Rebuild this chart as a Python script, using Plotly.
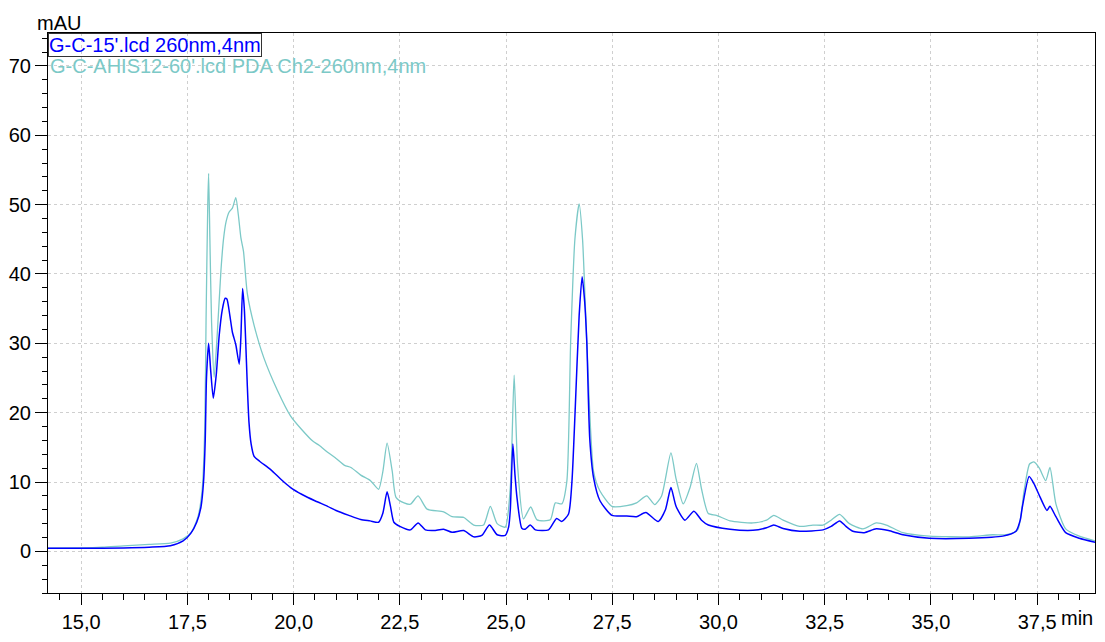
import plotly.graph_objects as go

# ---- data (retention time in min, absorbance in mAU) ----
blue_t = [14.22, 15.0, 16.0, 16.6, 17.1, 17.4, 17.58, 17.72, 17.82, 17.88, 17.92, 17.95, 18.0, 18.05, 18.11,
          18.18, 18.25, 18.32, 18.39, 18.43, 18.5, 18.56, 18.64, 18.72, 18.76, 18.80, 18.84, 18.87, 18.91,
          18.95, 19.0, 19.07, 19.2, 19.46, 19.70, 19.93, 20.2, 20.5, 20.8, 21.0, 21.3, 21.58, 21.8, 22.0,
          22.1, 22.2, 22.28, 22.36, 22.5, 22.75, 22.93, 23.1, 23.3, 23.53, 23.73, 24.0, 24.24, 24.43, 24.61,
          24.79, 24.98, 25.06, 25.10, 25.16, 25.21, 25.26, 25.37, 25.45, 25.57, 25.69, 26.0, 26.19, 26.31,
          26.47, 26.55, 26.63, 26.72, 26.79, 26.85, 26.90, 26.97, 27.06, 27.21, 27.49, 27.84, 28.07, 28.29,
          28.58, 28.75, 28.88, 29.0, 29.21, 29.42, 29.6, 29.76, 30.27, 30.81, 31.13, 31.30, 31.52, 31.91,
          32.46, 32.65, 32.85, 33.0, 33.16, 33.43, 33.71, 34.0, 34.34, 34.96, 35.9, 36.69, 37.0, 37.1, 37.15,
          37.31, 37.42, 37.54, 37.73, 37.80, 37.94, 38.17, 38.49, 38.87]
blue_v = [0.45, 0.45, 0.5, 0.6, 0.8, 1.5, 2.6, 4.2, 6.4, 10, 16, 25, 30.0, 26, 22.1,
          25.5, 31.2, 34.8, 36.5, 36.4, 34, 31.6, 29.8, 27.0, 31, 37.9, 35, 30.7, 24,
          18.6, 15.5, 13.7, 13.0, 11.8, 10.4, 9.2, 8.2, 7.3, 6.5, 5.9, 5.2, 4.6, 4.4, 4.2,
          5.5, 8.6, 6.5, 4.2, 3.6, 3.1, 4.1, 3.1, 3.0, 3.2, 2.75, 3.0, 2.1, 2.3, 3.8,
          2.4, 2.3, 3.5, 6.0, 15.5, 11, 7.6, 3.35, 3.2, 3.8, 3.1, 3.1, 4.75, 4.3,
          5.4, 10, 20.9, 34, 39.6, 36, 30.2, 16.2, 10.6, 7.3, 5.2, 5.1, 5.0, 5.6,
          4.3, 6, 9.2, 6.5, 4.5, 5.8, 4.5, 3.8, 3.2, 3.05, 3.4, 3.8, 3.3, 2.9,
          3.1, 3.6, 4.4, 3.6, 2.9, 2.7, 3.25, 3.0, 2.4, 1.9, 1.9, 2.2, 2.9, 4.5, 6.4,
          10.8, 9.8, 8.2, 5.9, 6.5, 5.0, 2.7, 1.9, 1.3]

teal_t = [14.22, 15.0, 15.5, 16.0, 16.6, 17.1, 17.4, 17.6, 17.75, 17.85, 17.91, 17.94, 17.98, 18.0, 18.03,
          18.07, 18.13, 18.2, 18.29, 18.35, 18.41, 18.48, 18.56, 18.64, 18.7, 18.76, 18.82, 18.91, 19.07,
          19.30, 19.62, 19.93, 20.2, 20.45, 20.6, 20.8, 21.0, 21.2, 21.35, 21.58, 21.81, 22.0, 22.1, 22.2,
          22.32, 22.41, 22.6, 22.75, 22.93, 23.14, 23.53, 23.73, 24.0, 24.24, 24.47, 24.63, 24.79, 24.98,
          25.10, 25.19, 25.27, 25.41, 25.58, 25.73, 26.04, 26.16, 26.31, 26.43, 26.52, 26.62, 26.72, 26.80,
          26.90, 27.06, 27.21, 27.49, 27.84, 28.07, 28.31, 28.50, 28.66, 28.88, 29.0, 29.17, 29.33, 29.48,
          29.6, 29.76, 29.95, 30.27, 30.81, 31.13, 31.30, 31.52, 31.91, 32.22, 32.46, 32.65, 32.85, 33.08,
          33.40, 33.71, 33.95, 34.34, 34.96, 35.9, 36.45, 36.77, 37.04, 37.19, 37.32, 37.42, 37.55, 37.70,
          37.80, 37.94, 38.17, 38.49, 38.87]
teal_v = [0.45, 0.5, 0.6, 0.8, 1.0, 1.2, 1.8, 2.8, 5, 9, 18, 33.5, 50, 54.5, 45,
          33, 25.1, 31, 40.5, 45, 47.5, 48.9, 49.5, 51.0, 48.5, 45.2, 43.3, 37.2, 32.6,
          27.9, 23.2, 19.5, 17.5, 15.9, 15.3, 14.3, 13.4, 12.4, 12.1, 11.0, 10.2, 8.95, 11.5, 15.6,
          11.6, 7.8, 7.0, 6.8, 8.0, 6.1, 5.7, 5.0, 4.9, 3.8, 3.8, 6.5, 4.0, 3.5,
          9.2, 25.4, 12.5, 4.7, 6.4, 4.55, 4.55, 7.0, 6.85, 10.1, 30.2, 45, 50.1, 45,
          30.2, 11.5, 8.7, 6.5, 6.6, 7.0, 8.0, 6.75, 8.0, 14.2, 10.5, 6.85, 9.2, 12.7,
          9, 5.45, 5.2, 4.4, 4.1, 4.5, 5.2, 4.5, 3.6, 3.8, 3.8, 4.5, 5.35, 4.0,
          3.25, 4.1, 3.8, 2.7, 2.2, 2.1, 2.4, 2.4, 3.1, 8.7, 12.6, 12.9, 12.0, 10.2,
          12.1, 6.85, 3.25, 2.2, 1.5]

blue_name = "G-C-15'.lcd 260nm,4nm"
teal_name = "G-C-AHIS12-60'.lcd PDA Ch2-260nm,4nm"

x_tickvals = [15.0, 17.5, 20.0, 22.5, 25.0, 27.5, 30.0, 32.5, 35.0, 37.5]
x_ticktext = ["15,0", "17,5", "20,0", "22,5", "25,0", "27,5", "30,0", "32,5", "35,0", "37,5"]
y_tickvals = [0, 10, 20, 30, 40, 50, 60, 70]
y_ticktext = ["0", "10", "20", "30", "40", "50", "60", "70"]

BLUE = "#0000ff"
TEAL = "#7cc9c7"
FONT = "Liberation Sans, Arial, sans-serif"
FS = 20

fig = go.Figure()
fig.add_trace(go.Scatter(x=teal_t, y=teal_v, mode="lines", name=teal_name,
                         line=dict(color=TEAL, width=1.3, shape="spline", smoothing=0.6)))
fig.add_trace(go.Scatter(x=blue_t, y=blue_v, mode="lines", name=blue_name,
                         line=dict(color=BLUE, width=1.5, shape="spline", smoothing=0.6)))

fig.update_layout(
    width=1105, height=642,
    margin=dict(l=47, r=9, t=33, b=34),
    paper_bgcolor="white", plot_bgcolor="white",
    showlegend=False,
    font=dict(family=FONT, size=FS, color="black"),
)
fig.update_xaxes(
    range=[14.22, 38.86], tickvals=x_tickvals, ticktext=x_ticktext,
    showline=True, linecolor="black", linewidth=1, mirror=True,
    ticks="outside", ticklen=11, tickcolor="black",
    minor=dict(dtick=0.5, tick0=15.0, ticks="outside", ticklen=6, tickcolor="black", showgrid=False),
    showgrid=True, gridcolor="#cfcfcf", griddash="dot", gridwidth=1,
    zeroline=False, tickfont=dict(size=FS),
)
fig.update_yaxes(
    range=[-6, 74.75], tickvals=y_tickvals, ticktext=y_ticktext,
    showline=True, linecolor="black", linewidth=1, mirror=True,
    ticks="outside", ticklen=12, tickcolor="black",
    minor=dict(dtick=2, tick0=0, ticks="outside", ticklen=5, tickcolor="black", showgrid=False),
    showgrid=True, gridcolor="#cfcfcf", griddash="dot", gridwidth=1,
    zeroline=False, tickfont=dict(size=FS),
)

# axis unit labels
fig.add_annotation(text="mAU", xref="paper", yref="paper", x=-0.012, y=1.0,
                   xanchor="left", yanchor="bottom", showarrow=False, yshift=-3,
                   font=dict(size=FS, color="black"))
fig.add_annotation(text="min", xref="paper", yref="paper", x=1.0, y=0,
                   xanchor="right", yanchor="top", showarrow=False, yshift=-12,
                   font=dict(size=FS, color="black"))

# legend texts
fig.add_annotation(text=blue_name, xref="paper", yref="paper", x=0.0, y=1.0,
                   xanchor="left", yanchor="top", showarrow=False,
                   bordercolor="#333333", borderwidth=1, borderpad=0,
                   font=dict(size=FS, color=BLUE))
fig.add_annotation(text=teal_name, xref="paper", yref="paper", x=0.0, y=1.0,
                   xanchor="left", yanchor="top", showarrow=False, yshift=-20,
                   font=dict(size=FS, color=TEAL))

fig.write_html("out.html", config={"displayModeBar": False},
               post_script="document.body.style.margin='0';")
